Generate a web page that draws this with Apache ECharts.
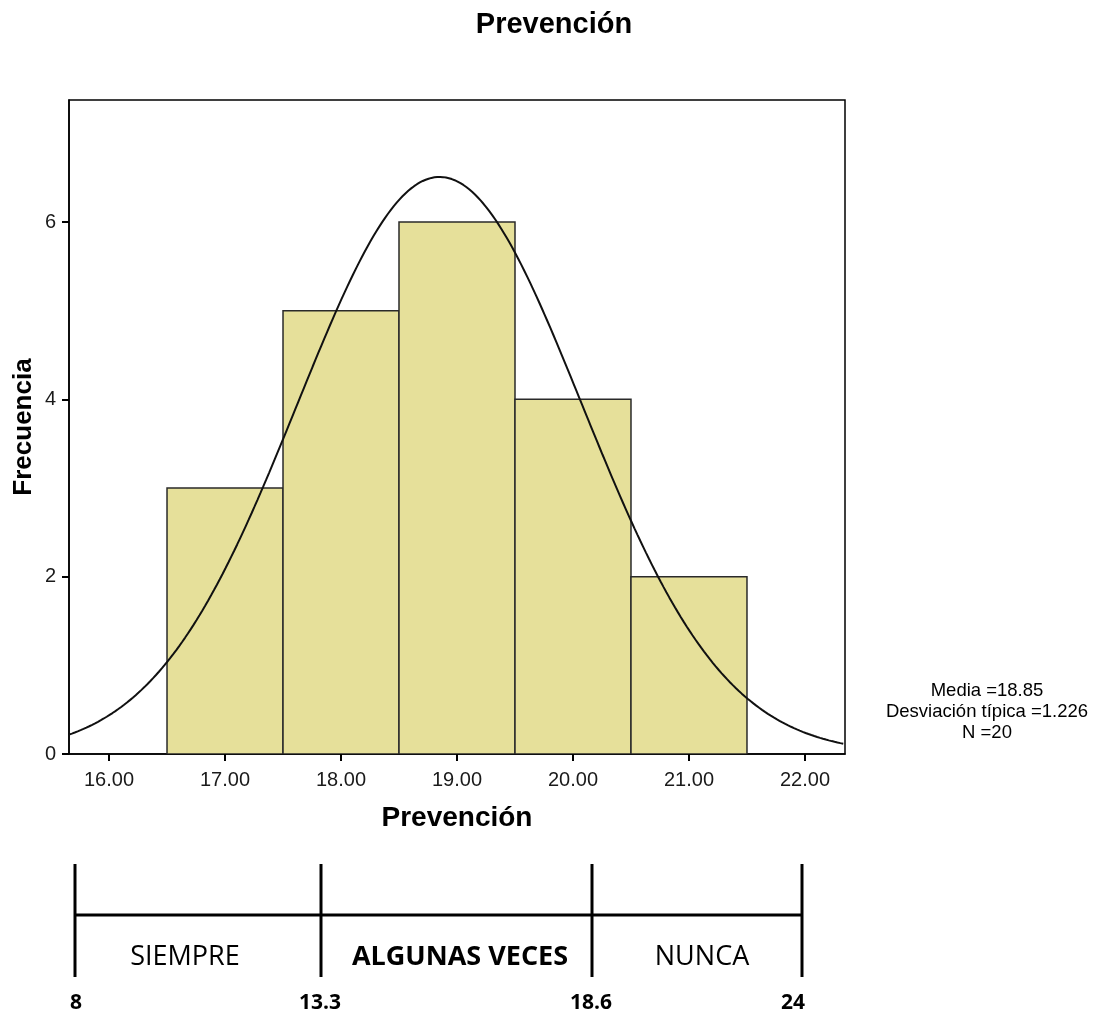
<!DOCTYPE html>
<html>
<head>
<meta charset="utf-8">
<script src="https://cdn.jsdelivr.net/npm/echarts@6/dist/echarts.min.js"></script>
<style>
  html, body { margin: 0; padding: 0; background: #fff; }
  #chart { width: 1102px; height: 1015px; }
</style>
</head>
<body>
<div id="chart"></div>
<script>
// Histogram bins (lower edge, upper edge) and frequencies
const binLower = [16.5, 17.5, 18.5, 19.5, 20.5];
const binUpper = [17.5, 18.5, 19.5, 20.5, 21.5];
const counts = [3, 5, 6, 4, 2];

// Summary statistics shown beside the plot
const mean = 18.85;
const sd = 1.226;
const n = 20;

// Axis tick labels
const xTicks = [16, 17, 18, 19, 20, 21, 22];
const yTicks = [0, 2, 4, 6];

// Scale diagram below the histogram
const scaleBounds = ['8', '13.3', '18.6', '24'];
const scaleNames = ['SIEMPRE', 'ALGUNAS VECES', 'NUNCA'];
const scaleBold = [false, true, false];

const xMin = 15.655, xMax = 22.345;
const yMax = 7.376;

// Fitted normal curve scaled to counts (bin width 1)
const binWidth = 1;
const curve = [];
for (let x = xMin; x <= xMax + 1e-9; x += 0.025) {
  const z = (x - mean) / sd;
  curve.push([x, n * binWidth * Math.exp(-0.5 * z * z) / (sd * Math.sqrt(2 * Math.PI))]);
}

const bars = binLower.map((lo, i) => [lo, binUpper[i], counts[i]]);

const sans = '"Liberation Sans", Arial, sans-serif';
const calib = '"Open Sans", "Noto Sans", sans-serif';

// Layout of the scale diagram (pixel x of each boundary, label centres)
const diagX = [75, 321, 592, 802];
const diagLabelX = [185, 460, 702];
const diagNumX = [76, 320, 591, 793];
const diagTop = 864, diagMid = 915, diagBot = 977, diagNumY = 1003;

const graphics = [];
diagX.forEach((x) => {
  graphics.push({ type: 'line', shape: { x1: x, y1: diagTop, x2: x, y2: diagBot },
    style: { stroke: '#000', lineWidth: 3 } });
});
graphics.push({ type: 'line', shape: { x1: diagX[0], y1: diagMid, x2: diagX[3], y2: diagMid },
  style: { stroke: '#000', lineWidth: 3 } });
scaleNames.forEach((name, i) => {
  graphics.push({ type: 'text', x: diagLabelX[i], y: 957,
    style: { text: name, font: (scaleBold[i] ? 'bold ' : '') + '27px ' + calib, fill: '#000',
      textAlign: 'center', textVerticalAlign: 'middle' } });
});
scaleBounds.forEach((b, i) => {
  graphics.push({ type: 'text', x: diagNumX[i], y: diagNumY,
    style: { text: b, font: 'bold 21px ' + calib, fill: '#000',
      textAlign: 'center', textVerticalAlign: 'middle' } });
});
// Summary statistics text
graphics.push({ type: 'text', x: 987, y: 712,
  style: { text: 'Media =' + mean.toFixed(2) + '\nDesviación típica =' + sd.toFixed(3) + '\nN =' + n,
    font: '18.5px ' + sans, fill: '#000', textAlign: 'center', textVerticalAlign: 'middle', lineHeight: 21 } });
// Chart title
graphics.push({ type: 'text', x: 554, y: 25,
  style: { text: 'Prevención', font: 'bold 29px ' + sans, fill: '#000',
    textAlign: 'center', textVerticalAlign: 'middle' } });
// Vertical axis title
graphics.push({ type: 'text', x: 24, y: 427, rotation: Math.PI / 2,
  style: { text: 'Frecuencia', font: 'bold 26px ' + sans, fill: '#000',
    textAlign: 'center', textVerticalAlign: 'middle' } });

const chart = echarts.init(document.getElementById('chart'), null, { renderer: 'canvas' });
chart.setOption({
  animation: false,
  backgroundColor: '#fff',
  grid: {
    left: 69, right: 257, top: 100, bottom: 261,
    show: true, borderColor: '#000', borderWidth: 1.5, backgroundColor: '#fff'
  },
  xAxis: {
    type: 'value', min: xMin, max: xMax,
    name: 'Prevención', nameLocation: 'middle', nameGap: 50,
    nameTextStyle: { fontFamily: sans, fontWeight: 'bold', fontSize: 28, color: '#000' },
    axisLine: { show: true, lineStyle: { color: '#000', width: 1.5 } },
    axisTick: { show: true, length: 7, customValues: xTicks, lineStyle: { color: '#000', width: 2 } },
    axisLabel: { customValues: xTicks, formatter: (v) => v.toFixed(2), fontFamily: sans, fontSize: 20,
      color: '#1a1a1a', margin: 16 },
    splitLine: { show: false }
  },
  yAxis: {
    type: 'value', min: 0, max: yMax,
    axisLine: { show: true, lineStyle: { color: '#000', width: 1.5 } },
    axisTick: { show: true, length: 7, customValues: yTicks, lineStyle: { color: '#000', width: 2 } },
    axisLabel: { customValues: yTicks, fontFamily: sans, fontSize: 20, color: '#1a1a1a', margin: 13 },
    splitLine: { show: false }
  },
  series: [
    {
      type: 'custom',
      data: bars,
      clip: true,
      renderItem: (params, api) => {
        const p0 = api.coord([api.value(0), api.value(2)]);
        const p1 = api.coord([api.value(1), 0]);
        return {
          type: 'rect',
          shape: { x: p0[0], y: p0[1], width: p1[0] - p0[0], height: p1[1] - p0[1] },
          style: { fill: '#e6e09a', stroke: '#2a2a2a', lineWidth: 1.5 }
        };
      },
      z: 2
    },
    {
      type: 'line',
      data: curve,
      showSymbol: false,
      smooth: false,
      clip: true,
      lineStyle: { color: '#111', width: 2 },
      z: 3
    }
  ],
  graphic: graphics
});
</script>
</body>
</html>
